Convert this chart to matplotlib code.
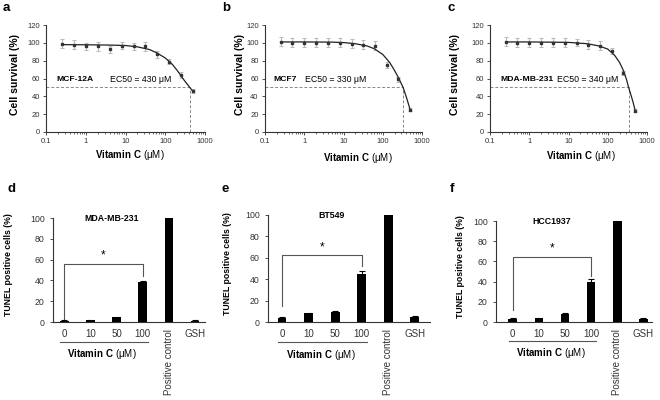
import matplotlib
matplotlib.use('Agg')
import matplotlib.pyplot as plt
import matplotlib.transforms as mtransforms

plt.rcParams['font.family'] = ['Liberation Sans', 'DejaVu Sans']
plt.rcParams['mathtext.fontset'] = 'custom'
plt.rcParams['mathtext.bf'] = 'Liberation Sans:bold'
plt.rcParams['mathtext.rm'] = 'Liberation Sans'

# dose-response data (top row)
conc = [0.25, 0.5, 1, 2, 4, 8, 16, 31.25, 62.5, 125, 250, 500]
surv_a = [99, 98, 96, 96, 93, 97, 96, 96, 87, 79, 64, 46]
err_a = [5, 5, 4, 5, 4, 4, 4, 5, 4, 3, 3, 2]
surv_b = [101, 100, 100, 100, 100, 100, 99, 98, 97, 75, 59, 25]
err_b = [5, 5, 5, 5, 5, 5, 5, 5, 5, 3, 3, 2]
surv_c = [101, 100, 100, 100, 100, 100, 100, 98, 97, 91, 66, 24]
err_c = [5, 5, 5, 5, 5, 5, 4, 5, 5, 3, 2, 2]

# fitted curves
fit_x_a = [0.25, 1, 4, 10, 20, 40, 60, 100, 150, 200, 300, 430, 500]
fit_y_a = [98, 97.8, 97.5, 97, 95.5, 92.5, 89, 83, 76, 69, 58, 49, 45.5]
fit_x_b = [0.25, 1, 5, 10, 20, 40, 60, 100, 150, 200, 250, 330, 400, 500]
fit_y_b = [101, 101, 100.8, 100.3, 99, 96.5, 93.5, 87, 78, 69, 61, 50, 39, 25]
fit_x_c = [0.25, 1, 10, 30, 60, 100, 150, 200, 250, 300, 340, 400, 450, 500]
fit_y_c = [101, 101, 100.5, 99, 96.5, 93, 86, 78, 69, 59, 50, 40, 32, 24]

ec50 = [430, 330, 340]
lines_top = ['MCF-12A', 'MCF7', 'MDA-MB-231']

# TUNEL data (bottom row)
groups = ['0', '10', '50', '100', 'Positive control', 'GSH']
tunel_d = [1, 1.5, 4.5, 38, 100, 1]
tunel_d_err = [0.5, 0.5, 0.5, 1, 0, 0.5]
tunel_e = [4, 8, 9.5, 45, 100, 5]
tunel_e_err = [0.5, 0.5, 0.5, 3, 0, 0.5]
tunel_f = [3, 3.5, 8, 40, 100, 3]
tunel_f_err = [0.5, 0.5, 0.5, 2.5, 0, 0.5]
lines_bot = ['MDA-MB-231', 'BT549', 'HCC1937']

W, H = 660, 400
fig = plt.figure(figsize=(6.6, 4.0), dpi=100)


def rect(l, r, t, b):
    return [l / W, 1 - b / H, (r - l) / W, (b - t) / H]


def style(ax):
    ax.spines['top'].set_visible(False)
    ax.spines['right'].set_visible(False)
    for s in ['left', 'bottom']:
        ax.spines[s].set_color('#333333')
        ax.spines[s].set_linewidth(0.8)
    ax.tick_params(colors='#333333', width=0.6, length=2.5, direction='out')


def dose_panel(r, letter, surv, err, fx, fy, ec, name, txt_pos, xl_pos, yl_x):
    ax = fig.add_axes(rect(*r))
    style(ax)
    ax.set_xscale('log')
    ax.set_xlim(0.1, 1000)
    ax.set_ylim(0, 120)
    ax.set_yticks(range(0, 121, 20))
    ax.set_xticks([0.1, 1, 10, 100, 1000])
    ax.set_xticklabels(['0.1', '1', '10', '100', '1000'])
    ax.tick_params(labelsize=5.5, pad=2)
    ax.tick_params(which='minor', length=1.5, width=0.5, colors='#333333')
    ax.errorbar(conc, surv, yerr=err, fmt='none', ecolor='#bbbbbb',
                elinewidth=0.8, capsize=1.5, capthick=0.8, zorder=2)
    ax.plot(fx, fy, color='#222222', lw=0.9, zorder=3)
    ax.plot(conc, surv, 's', color='#333333', ms=1.6, zorder=4)
    ax.plot([0.1, ec], [50, 50], '--', color='#888888', lw=0.7, dashes=(3, 2))
    ax.plot([ec, ec], [0, 50], '--', color='#888888', lw=0.7, dashes=(3, 2))
    ax.text(txt_pos[0], 0.49, name, transform=ax.transAxes, fontsize=6.1,
            fontweight='bold', va='center', ha='left')
    ax.text(txt_pos[1], 0.49, f'EC50 = {ec} μM', transform=ax.transAxes,
            fontsize=6.3, va='center', ha='left')
    ax.text(xl_pos[0], xl_pos[1], r'$\mathbf{Vitamin\ C}$ (μM)',
            transform=ax.transAxes, fontsize=7, ha='center', va='center')
    ax.set_ylabel('Cell survival (%)', fontsize=7.6, fontweight='bold')
    ax.yaxis.set_label_coords(yl_x, 0.54)
    fig.text((r[0] - 43) / W, 1 - 8 / H, letter, fontsize=9.5,
             fontweight='bold', va='center', ha='left')
    return ax


dose_panel((46, 205, 25, 132), 'a', surv_a, err_a, fit_x_a, fit_y_a,
           ec50[0], lines_top[0], (0.063, 0.40), (0.53, -0.215), -0.164)
dose_panel((265, 422, 25, 132), 'b', surv_b, err_b, fit_x_b, fit_y_b,
           ec50[1], lines_top[1], (0.053, 0.255), (0.59, -0.24), -0.128)
dose_panel((490, 647, 25, 132), 'c', surv_c, err_c, fit_x_c, fit_y_c,
           ec50[2], lines_top[2], (0.064, 0.425), (0.58, -0.22), -0.19)


def tunel_panel(r, letter, vals, errs, name, xlim, brk, star_y, yl_x, title_x):
    ax = fig.add_axes(rect(*r))
    style(ax)
    x = list(range(len(groups)))
    ax.bar(x, vals, width=0.33, color='black', zorder=3)
    ax.errorbar(x, vals, yerr=errs, fmt='none', ecolor='black',
                elinewidth=0.8, capsize=2, capthick=0.8, zorder=4)
    ax.set_xlim(*xlim)
    ax.set_ylim(0, 100)
    ax.set_yticks(range(0, 101, 20))
    ax.set_xticks(x)
    ax.set_xticklabels(groups)
    ax.tick_params(axis='x', length=0, pad=5, labelsize=7)
    ax.tick_params(axis='y', labelsize=6.3)
    for lab in ax.get_xticklabels():
        if lab.get_text() == 'Positive control':
            lab.set_rotation(90)
            lab.set_va('top')
    # significance bracket
    ax.plot([0, 0, 3, 3], [brk[0], brk[1], brk[1], brk[2]], color='#555555',
            lw=0.8, zorder=2)
    ax.text(1.5, star_y, '*', fontsize=8.5, ha='center', va='center')
    ax.text(title_x, 100, name, fontsize=6.3, fontweight='bold',
            ha='center', va='center')
    trans = mtransforms.blended_transform_factory(ax.transData, ax.transAxes)
    ax.plot([-0.15, 3.2], [-0.19, -0.19], color='#555555', lw=0.8,
            transform=trans, clip_on=False)
    ax.text(1.45, -0.31, r'$\mathbf{Vitamin\ C}$ (μM)', transform=trans,
            fontsize=7, ha='center', va='center')
    ax.set_ylabel('TUNEL positive cells (%)', fontsize=6.3, fontweight='bold')
    ax.yaxis.set_label_coords(yl_x, 0.55)
    fig.text((r[0] - 46) / W, 1 - 189 / H, letter, fontsize=9.5,
             fontweight='bold', va='center', ha='left')
    return ax


tunel_panel((53, 205, 218, 322), 'd', tunel_d, tunel_d_err, lines_bot[0],
            (-0.43, 5.38), (2, 55.8, 43.8), 64, -0.26, 1.8)
tunel_panel((268, 430, 215, 322), 'e', tunel_e, tunel_e_err, lines_bot[1],
            (-0.53, 5.57), (14.5, 62.7, 52), 70, -0.22, 1.86)
tunel_panel((496, 652, 221, 322), 'f', tunel_f, tunel_f_err, lines_bot[2],
            (-0.64, 5.33), (11.6, 64.4, 46), 72.7, -0.2, 1.5)

fig.savefig('out.png', dpi=100)
